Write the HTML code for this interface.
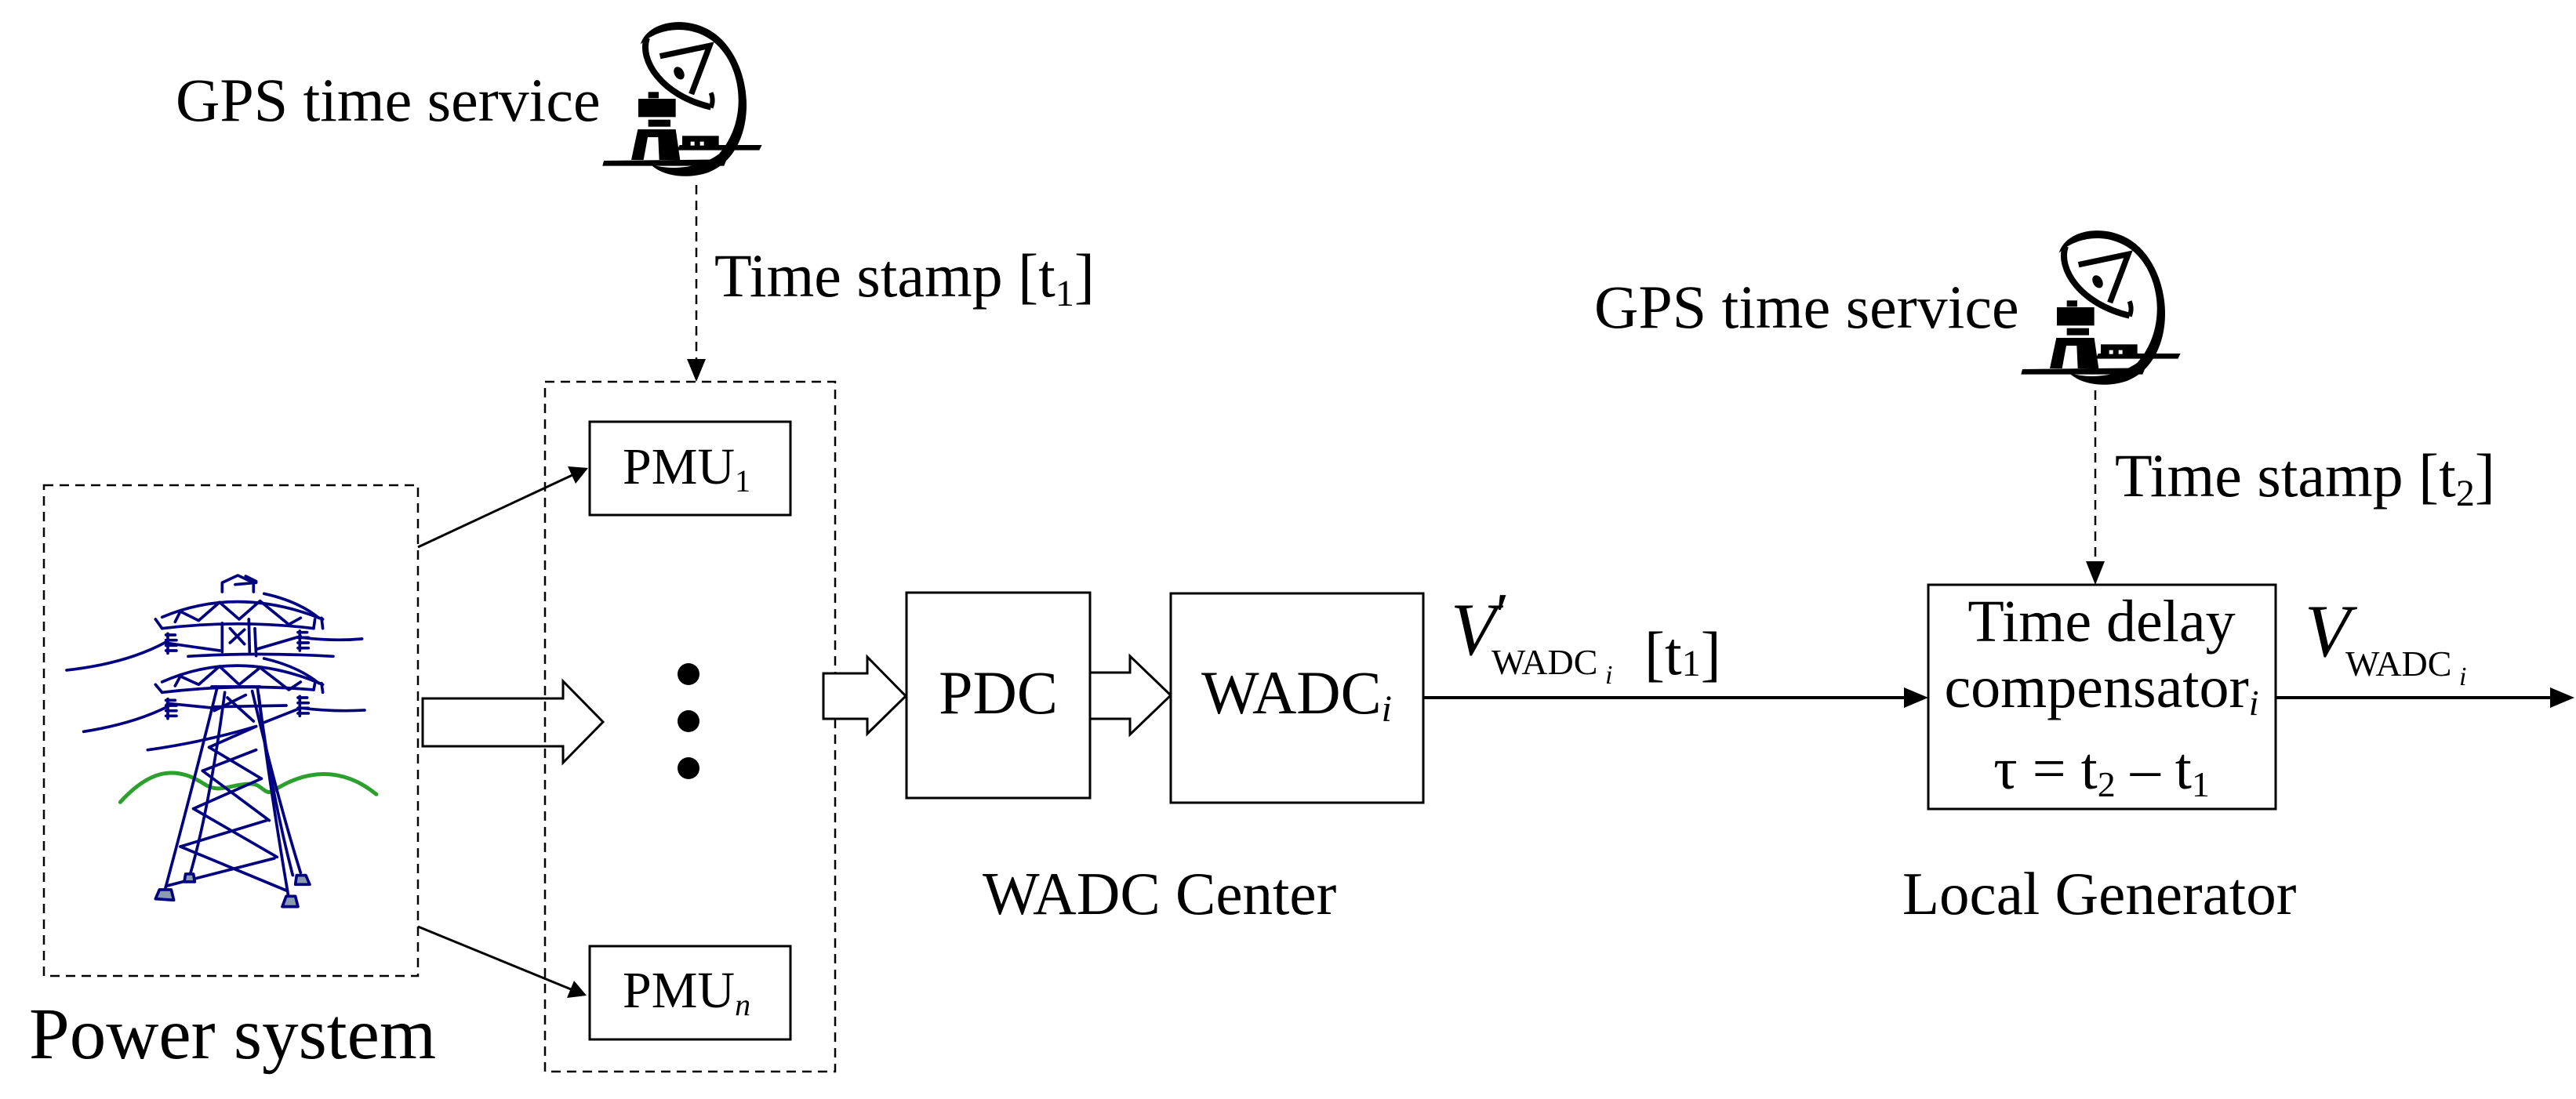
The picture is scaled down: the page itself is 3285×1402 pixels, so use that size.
<!DOCTYPE html>
<html><head><meta charset="utf-8"><style>
html,body{margin:0;padding:0;background:#fff}
svg{display:block}
text{font-family:"Liberation Serif",serif;fill:#000}
</style></head><body>
<svg width="3285" height="1402" viewBox="0 0 3285 1402" xmlns="http://www.w3.org/2000/svg">
<defs>
<g id="dish">
 <path d="M170,140 C200,40 380,20 480,120 C620,260 610,560 430,630 C340,660 250,640 210,600 C300,625 400,610 470,560 C585,430 560,220 450,130 C360,60 240,75 170,140 Z" fill="#000"/>
 <path d="M195,115 C165,200 250,335 440,380" fill="none" stroke="#000" stroke-width="24"/>
 <path d="M440,325 C450,350 445,370 440,382" fill="none" stroke="#000" stroke-width="18"/>
 <path d="M245,185 L435,145 L365,330" fill="none" stroke="#000" stroke-width="22" stroke-linejoin="miter"/>
 <ellipse cx="318" cy="250" rx="18" ry="26" transform="rotate(-30 318 250)" fill="#000"/>
 <rect x="200" y="322" width="40" height="24" fill="#000"/>
 <rect x="162" y="348" width="143" height="70" fill="#000"/>
 <rect x="200" y="428" width="85" height="27" fill="#000"/>
 <polygon points="160,465 305,465 322,582 135,582" fill="#000"/>
 <polygon points="198,495 238,495 242,582 182,582" fill="#fff"/>
 <polygon points="30,585 500,580 490,605 25,605" fill="#000"/>
 <polygon points="320,525 635,525 625,545 310,545" fill="#000"/>
 <rect x="330" y="490" width="140" height="40" fill="#000"/>
 <rect x="362" y="512" width="15" height="15" fill="#fff"/>
 <rect x="398" y="512" width="15" height="15" fill="#fff"/>
</g>
</defs>

<!-- GPS 1 -->
<text x="224" y="154" font-size="78">GPS time service</text>
<g transform="translate(760,10) scale(0.3333)"><use href="#dish"/></g>
<line x1="888" y1="236" x2="888" y2="460" stroke="#000" stroke-width="2.5" stroke-dasharray="12,8"/>
<polygon points="876,458 900,458 888,487" fill="#000"/>
<text x="911" y="378" font-size="78">Time stamp [t<tspan font-size="48" dy="12">1</tspan><tspan dy="-12">]</tspan></text>

<!-- Power system -->
<rect x="56" y="619" width="477" height="626" fill="none" stroke="#000" stroke-width="2.5" stroke-dasharray="12,8"/>
<text x="37" y="1350" font-size="93">Power system</text>

<g transform="translate(60,700) scale(0.3333)" fill="none" stroke="#000080" stroke-width="11" stroke-linecap="round" stroke-linejoin="round">
 <path d="M280,970 C380,860 480,820 600,900 C660,940 700,900 780,900 C820,900 830,940 860,930 C950,870 1100,810 1260,940" stroke="#2ca02c" stroke-width="15"/>
 <polyline points="670,165 670,130 730,102 790,130 790,165"/>
 <line x1="720" y1="137" x2="800" y2="130"/><line x1="760" y1="105" x2="800" y2="125"/>
 <path d="M440,262 Q730,140 1055,270"/>
 <path d="M830,172 Q960,200 1040,265"/>
 <polyline points="490,280 510,240 580,275 660,205 735,270 815,200 925,290 970,265"/>
 <path d="M440,305 Q730,270 1020,305"/>
 <polyline points="415,270 440,305"/><polyline points="1020,305 1025,270"/><polyline points="1050,265 1055,305"/>
 <line x1="670" y1="285" x2="670" y2="395"/><line x1="772" y1="270" x2="775" y2="395"/><line x1="795" y1="305" x2="800" y2="410"/>
 <line x1="700" y1="305" x2="755" y2="365"/><line x1="755" y1="310" x2="700" y2="360"/>
 <path d="M455,330 h35 M455,350 h40 M455,370 h40 M455,390 h40 M462,325 v75"/>
 <path d="M960,320 h35 M960,340 h40 M960,360 h40 M960,380 h40 M967,315 v75"/>
 <path d="M75,465 Q300,440 450,360"/><line x1="450" y1="360" x2="660" y2="390"/>
 <path d="M540,412 Q800,395 1095,412"/><line x1="800" y1="385" x2="970" y2="335"/>
 <path d="M975,340 Q1100,355 1205,345"/>
 <path d="M440,510 Q730,380 1055,520"/>
 <path d="M830,420 Q960,450 1040,515"/>
 <polyline points="490,525 510,488 580,520 660,450 735,520 815,455 925,540 970,510"/>
 <path d="M440,550 Q730,515 1020,540"/>
 <polyline points="415,520 440,550"/><polyline points="1020,540 1025,515"/><polyline points="1050,515 1055,550"/>
 <path d="M455,580 h35 M455,600 h40 M455,620 h40 M455,640 h40 M462,575 v75"/>
 <path d="M960,570 h35 M960,590 h40 M960,610 h40 M960,630 h40 M967,565 v75"/>
 <path d="M140,700 Q330,670 460,605"/><line x1="460" y1="592" x2="640" y2="610"/>
 <line x1="640" y1="605" x2="915" y2="600"/><line x1="830" y1="665" x2="970" y2="610"/>
 <path d="M975,610 Q1100,625 1215,618"/><path d="M385,770 Q600,740 800,680"/>
 <line x1="630" y1="528" x2="815" y2="528"/>
 <path d="M650,535 Q560,900 450,1310"/><path d="M680,550 Q620,1000 545,1255"/>
 <path d="M805,530 Q850,900 925,1340"/><path d="M785,545 Q880,950 970,1240"/><path d="M810,560 Q850,900 940,1250"/>
 <line x1="640" y1="620" x2="760" y2="560"/><line x1="690" y1="570" x2="790" y2="660"/>
 <line x1="620" y1="760" x2="800" y2="680"/><line x1="620" y1="760" x2="820" y2="880"/>
 <line x1="595" y1="850" x2="800" y2="770"/><line x1="595" y1="850" x2="850" y2="1040"/>
 <line x1="560" y1="995" x2="820" y2="880"/><line x1="560" y1="995" x2="880" y2="1180"/>
 <line x1="510" y1="1140" x2="840" y2="1040"/><line x1="510" y1="1140" x2="920" y2="1310"/>
 <line x1="460" y1="1290" x2="870" y2="1185"/>
 <polygon points="430,1305 475,1305 485,1345 415,1340" fill="#8a9bb0"/>
 <polygon points="530,1245 560,1245 565,1275 525,1275" fill="#8a9bb0"/>
 <polygon points="915,1330 950,1330 960,1370 900,1370" fill="#8a9bb0"/>
 <polygon points="955,1250 990,1250 1005,1285 950,1285" fill="#8a9bb0"/>
</g>

<!-- arrows from power system -->
<line x1="533" y1="698" x2="730" y2="606" stroke="#000" stroke-width="3"/>
<polygon points="750,597 724,595 734,617" fill="#000"/>
<line x1="533" y1="1182" x2="728" y2="1262" stroke="#000" stroke-width="3"/>
<polygon points="748,1270 732,1251 723,1273" fill="#000"/>
<polygon points="539,891 718,891 718,869 769,921 718,973 718,952 539,952" fill="#fff" stroke="#000" stroke-width="3"/>

<!-- PMU group -->
<rect x="695" y="487" width="370" height="880" fill="none" stroke="#000" stroke-width="2.5" stroke-dasharray="12,8"/>
<rect x="752" y="538" width="256" height="119" fill="#fff" stroke="#000" stroke-width="3"/>
<text x="794" y="617" font-size="66">PMU<tspan font-size="40" dy="10">1</tspan></text>
<rect x="752" y="1207" width="256" height="119" fill="#fff" stroke="#000" stroke-width="3"/>
<text x="794" y="1285" font-size="66">PMU<tspan font-size="40" dy="10" font-style="italic">n</tspan></text>
<circle cx="878" cy="860" r="14" fill="#000"/>
<circle cx="878" cy="920" r="14" fill="#000"/>
<circle cx="878" cy="980" r="14" fill="#000"/>
<polygon points="1050,859 1106,859 1106,838 1155,888 1106,936 1106,917 1050,917" fill="#fff" stroke="#000" stroke-width="3"/>

<!-- PDC, WADC -->
<rect x="1156" y="756" width="234" height="262" fill="#fff" stroke="#000" stroke-width="3"/>
<text x="1273" y="910" font-size="78" text-anchor="middle">PDC</text>
<polygon points="1390,858 1441,858 1441,837 1493,887 1441,937 1441,917 1390,917" fill="#fff" stroke="#000" stroke-width="3"/>
<rect x="1493" y="757" width="322" height="267" fill="#fff" stroke="#000" stroke-width="3"/>
<text x="1532" y="910" font-size="78">WADC<tspan font-style="italic" font-size="48" dy="10">i</tspan></text>
<text x="1253" y="1166" font-size="77">WADC Center</text>

<!-- V' label and line -->
<text x="1850" y="835" font-size="95" font-style="italic">V</text>
<text x="1902" y="812" font-size="80" font-style="italic">′</text>
<text x="1902" y="860" font-size="46">WADC</text>
<text x="2047" y="872" font-size="34" font-style="italic">i</text>
<text x="2097" y="860" font-size="78">[t<tspan font-size="48" dy="2">1</tspan><tspan dy="-2">]</tspan></text>
<line x1="1815" y1="890" x2="2430" y2="890" stroke="#000" stroke-width="4"/>
<polygon points="2459,890 2428,877 2428,903" fill="#000"/>

<!-- GPS 2 -->
<text x="2033" y="418" font-size="78">GPS time service</text>
<g transform="translate(2569,276) scale(0.3333)"><use href="#dish"/></g>
<line x1="2672" y1="498" x2="2672" y2="718" stroke="#000" stroke-width="2.5" stroke-dasharray="12,8"/>
<polygon points="2660,716 2684,716 2672,746" fill="#000"/>
<text x="2697" y="633" font-size="78">Time stamp [t<tspan font-size="48" dy="12">2</tspan><tspan dy="-12">]</tspan></text>

<!-- Time delay compensator -->
<rect x="2459" y="746" width="443" height="286" fill="#fff" stroke="#000" stroke-width="3"/>
<text x="2680" y="818" font-size="76" text-anchor="middle">Time delay</text>
<text x="2680" y="902" font-size="76" text-anchor="middle">compensator<tspan font-style="italic" font-size="46" dy="10">i</tspan></text>
<text x="2680" y="1006" font-size="76" text-anchor="middle">τ = t<tspan font-size="46" dy="10">2</tspan><tspan dy="-10"> – t</tspan><tspan font-size="46" dy="10">1</tspan></text>
<text x="2426" y="1166" font-size="77">Local Generator</text>

<!-- output -->
<text x="2939" y="837" font-size="95" font-style="italic">V</text>
<text x="2991" y="862" font-size="46">WADC</text>
<text x="3136" y="874" font-size="34" font-style="italic">i</text>
<line x1="2902" y1="890" x2="3255" y2="890" stroke="#000" stroke-width="4"/>
<polygon points="3283,890 3252,877 3252,903" fill="#000"/>
</svg>
</body></html>
